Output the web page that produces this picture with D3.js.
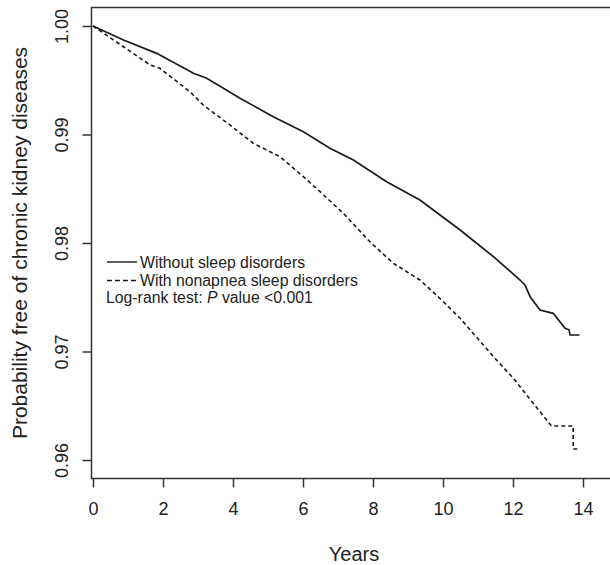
<!DOCTYPE html>
<html>
<head>
<meta charset="utf-8">
<script src="https://cdn.jsdelivr.net/npm/d3@7/dist/d3.min.js"></script>
<style>
  body { margin: 0; background: #ffffff; }
  svg { display: block; }
  text { font-family: "Liberation Sans", Arial, Helvetica, sans-serif; fill: #222222; }
</style>
</head>
<body>
<svg id="km" width="610" height="565"></svg>
<script>

// Kaplan-Meier estimates (years, survival)
var years_without = [0, 0.87, 1.82, 2.87, 3.25, 4.2, 5.15, 6.01, 6.77, 7.44, 8.39, 9.34,
                     10.49, 11.44, 12.2, 12.34, 12.49, 12.77, 13.15, 13.34, 13.49, 13.6, 13.63, 13.9]
var surv_without = [1.0, 0.99871, 0.99748, 0.99564, 0.99518, 0.99334, 0.99164, 0.99026, 0.98873, 0.98765, 0.98565, 0.98396,
                    0.9812, 0.97874, 0.97659, 0.97613, 0.97505, 0.97382, 0.97352, 0.97275, 0.97214, 0.972, 0.97152, 0.97152]

var years_nonapnea = [0, 0.87, 1.63, 1.91, 2.77, 3.15, 3.91, 4.58, 5.34, 6.01, 6.49, 7.15, 7.91, 8.58,
                      9.34, 9.91, 10.49, 11.44, 12.01, 12.58, 13.1, 13.72, 13.72, 13.9]
var surv_nonapnea = [1.0, 0.99809, 0.99641, 0.9961, 0.99394, 0.99272, 0.99088, 0.98919, 0.98796, 0.98611, 0.98473, 0.98274, 0.98012, 0.97813,
                     0.97659, 0.9749, 0.97306, 0.96953, 0.96753, 0.96522, 0.96313, 0.96313, 0.96101, 0.96101]

var x_ticks = [0, 2, 4, 6, 8, 10, 12, 14]
var y_ticks = [0.96, 0.97, 0.98, 0.99, 1.00]
var legend_labels = ["Without sleep disorders", "With nonapnea sleep disorders"]

// plot region (right edge of the box runs off the page in the original)
var plotLeft = 91.5, plotTop = 7.5, plotRight = 618, plotBottom = 478.5

var svg = d3.select('#km')

var x = d3.scaleLinear().domain([0, 14]).range([93, 583])
var y = d3.scaleLinear().domain([0.96, 1.00]).range([460, 26])

// box
svg.append('rect')
    .attr('x', plotLeft).attr('y', plotTop)
    .attr('width', plotRight - plotLeft).attr('height', plotBottom - plotTop)
    .attr('fill', 'none').attr('stroke', '#333').attr('stroke-width', 1.5)

// x axis
var xAxis = svg.append('g')
    .attr('transform', 'translate(0,' + plotBottom + ')')
    .call(d3.axisBottom(x).tickValues(x_ticks).tickSize(9).tickPadding(14.5))
xAxis.select('.domain').remove()
xAxis.selectAll('line').attr('stroke', '#333').attr('stroke-width', 1.5)
xAxis.selectAll('text').style('font-size', '18px').attr('fill', '#222')

// y axis, labels turned sideways like R's default
var yAxis = svg.append('g')
    .attr('transform', 'translate(' + plotLeft + ',0)')
    .call(d3.axisLeft(y).tickValues(y_ticks).tickSize(9).tickFormat(d3.format('.2f')))
yAxis.select('.domain').remove()
yAxis.selectAll('line').attr('stroke', '#333').attr('stroke-width', 1.5)
yAxis.selectAll('text')
    .attr('transform', 'rotate(-90)')
    .attr('x', 0).attr('y', -23.2).attr('dy', 0)
    .attr('text-anchor', 'middle')
    .style('font-size', '18px').attr('fill', '#222')

// axis titles
svg.append('text')
    .attr('transform', 'translate(27,' + (plotTop + plotBottom) / 2 + ') rotate(-90)')
    .attr('text-anchor', 'middle')
    .style('font-size', '21px')
    .text('Probability free of chronic kidney diseases')

svg.append('text')
    .attr('x', 354).attr('y', 561)
    .attr('text-anchor', 'middle')
    .style('font-size', '20px')
    .text('Years')

// curves
var line = d3.line()
    .x(function(d) { return x(d[0]) })
    .y(function(d) { return y(d[1]) })

svg.append('path')
    .datum(d3.zip(years_without, surv_without))
    .attr('d', line)
    .attr('fill', 'none').attr('stroke', '#1a1a1a').attr('stroke-width', 1.7)

svg.append('path')
    .datum(d3.zip(years_nonapnea, surv_nonapnea))
    .attr('d', line)
    .attr('fill', 'none').attr('stroke', '#1a1a1a').attr('stroke-width', 1.6)
    .attr('stroke-dasharray', '4,3')

// legend
var dashes = [null, '5,3']
legend_labels.forEach(function(lbl, i) {
    var ly = 262 + i * 18.5
    svg.append('line')
        .attr('x1', 107).attr('x2', 137).attr('y1', ly).attr('y2', ly)
        .attr('stroke', '#1a1a1a').attr('stroke-width', 1.4)
        .attr('stroke-dasharray', dashes[i])
    svg.append('text')
        .attr('x', 140).attr('y', ly + 5.5)
        .style('font-size', '15.8px')
        .text(lbl)
})

var logrank = svg.append('text')
    .attr('x', 106).attr('y', 303)
    .style('font-size', '15.8px')
logrank.append('tspan').text('Log-rank test: ')
logrank.append('tspan').style('font-style', 'italic').text('P')
logrank.append('tspan').text(' value <0.001')

</script>
</body>
</html>
